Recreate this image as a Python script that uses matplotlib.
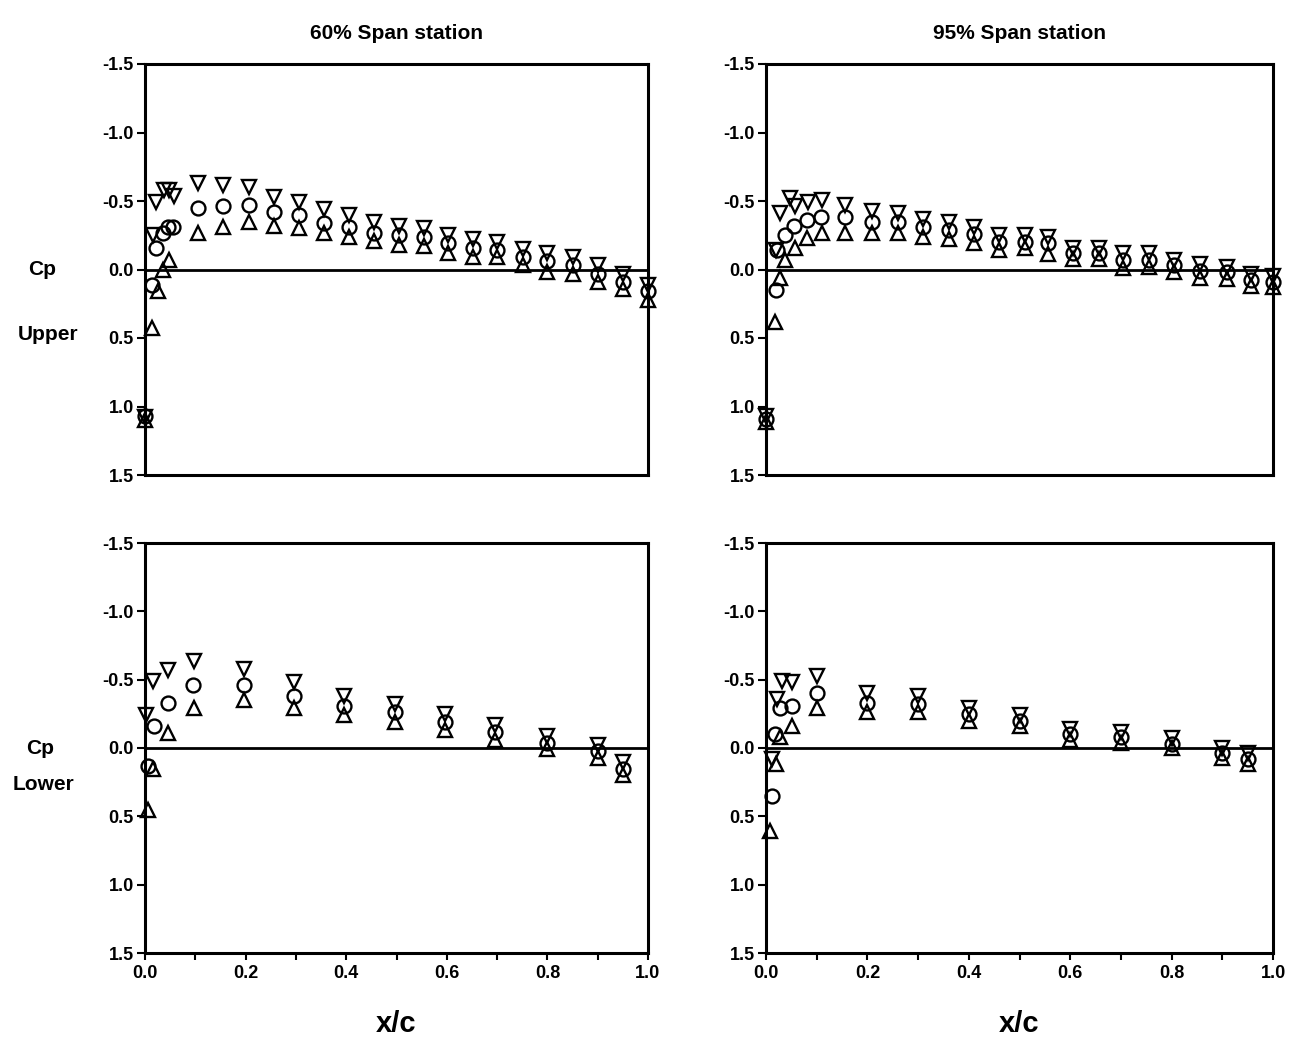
import matplotlib
matplotlib.use("Agg")
import matplotlib.pyplot as plt
from matplotlib.ticker import MultipleLocator, FuncFormatter

plt.rcParams['font.family'] = ['Liberation Sans', 'DejaVu Sans']
plt.rcParams['font.weight'] = 'bold'

# ---- 60% span, upper surface (down-triangle / circle / up-triangle) ----
x60u_dn = [0.0, 0.016, 0.022, 0.038, 0.047, 0.058, 0.105, 0.155, 0.206, 0.256, 0.306, 0.356, 0.405, 0.455,
           0.504, 0.554, 0.603, 0.653, 0.70, 0.752, 0.80, 0.85, 0.90, 0.95, 1.0]
cp60u_dn = [1.08, -0.25, -0.49, -0.58, -0.58, -0.54, -0.63, -0.62, -0.60, -0.53, -0.49, -0.44, -0.40, -0.35,
            -0.32, -0.30, -0.25, -0.22, -0.20, -0.15, -0.12, -0.09, -0.03, 0.03, 0.11]
x60u_ci = [0.0, 0.014, 0.022, 0.036, 0.045, 0.055, 0.105, 0.155, 0.206, 0.256, 0.306, 0.356, 0.405, 0.455,
           0.504, 0.554, 0.603, 0.653, 0.70, 0.752, 0.80, 0.85, 0.90, 0.95, 1.0]
cp60u_ci = [1.07, 0.11, -0.16, -0.27, -0.31, -0.31, -0.45, -0.46, -0.47, -0.42, -0.40, -0.34, -0.31, -0.27,
            -0.25, -0.24, -0.19, -0.16, -0.14, -0.09, -0.06, -0.03, 0.03, 0.09, 0.16]
x60u_up = [0.0, 0.014, 0.025, 0.036, 0.048, 0.105, 0.155, 0.206, 0.256, 0.306, 0.356, 0.405, 0.455,
           0.504, 0.554, 0.603, 0.653, 0.70, 0.752, 0.80, 0.85, 0.90, 0.95, 1.0]
cp60u_up = [1.10, 0.43, 0.16, 0.0, -0.07, -0.27, -0.31, -0.35, -0.32, -0.30, -0.27, -0.24, -0.21,
            -0.18, -0.17, -0.12, -0.09, -0.09, -0.03, 0.02, 0.03, 0.09, 0.14, 0.22]

# ---- 95% span, upper surface ----
x95u_dn = [0.0, 0.020, 0.028, 0.047, 0.057, 0.083, 0.11, 0.156, 0.21, 0.26, 0.31, 0.36, 0.41, 0.46,
           0.51, 0.557, 0.605, 0.656, 0.705, 0.755, 0.804, 0.857, 0.91, 0.957, 1.0]
cp95u_dn = [1.07, -0.14, -0.41, -0.52, -0.46, -0.49, -0.51, -0.47, -0.43, -0.41, -0.37, -0.35, -0.31, -0.25,
            -0.25, -0.24, -0.16, -0.16, -0.12, -0.12, -0.07, -0.04, -0.02, 0.03, 0.05]
x95u_ci = [0.0, 0.020, 0.022, 0.038, 0.055, 0.08, 0.108, 0.156, 0.21, 0.26, 0.31, 0.36, 0.41, 0.46,
           0.51, 0.557, 0.605, 0.656, 0.705, 0.755, 0.804, 0.857, 0.91, 0.957, 1.0]
cp95u_ci = [1.09, 0.15, -0.14, -0.25, -0.32, -0.36, -0.38, -0.38, -0.35, -0.35, -0.31, -0.29, -0.26, -0.20,
            -0.20, -0.19, -0.12, -0.12, -0.07, -0.07, -0.03, 0.01, 0.02, 0.08, 0.09]
x95u_up = [0.0, 0.018, 0.028, 0.038, 0.057, 0.08, 0.11, 0.156, 0.21, 0.26, 0.31, 0.36, 0.41, 0.46,
           0.51, 0.557, 0.605, 0.656, 0.705, 0.755, 0.804, 0.857, 0.91, 0.957, 1.0]
cp95u_up = [1.11, 0.38, 0.06, -0.07, -0.16, -0.23, -0.27, -0.27, -0.27, -0.27, -0.24, -0.22, -0.19, -0.14,
            -0.16, -0.11, -0.08, -0.08, -0.01, -0.02, 0.02, 0.06, 0.07, 0.12, 0.13]

# ---- 60% span, lower surface ----
x60l_dn = [0.002, 0.016, 0.046, 0.097, 0.197, 0.296, 0.395, 0.498, 0.597, 0.695, 0.80, 0.90, 0.95]
cp60l_dn = [-0.24, -0.49, -0.57, -0.64, -0.58, -0.48, -0.38, -0.32, -0.25, -0.17, -0.09, -0.02, 0.10]
x60l_ci = [0.006, 0.018, 0.046, 0.095, 0.197, 0.296, 0.395, 0.498, 0.597, 0.695, 0.80, 0.90, 0.95]
cp60l_ci = [0.13, -0.16, -0.33, -0.46, -0.46, -0.38, -0.31, -0.26, -0.19, -0.12, -0.04, 0.02, 0.15]
x60l_up = [0.006, 0.016, 0.046, 0.097, 0.197, 0.296, 0.395, 0.498, 0.597, 0.695, 0.80, 0.90, 0.95]
cp60l_up = [0.45, 0.15, -0.11, -0.29, -0.35, -0.29, -0.24, -0.19, -0.13, -0.06, 0.01, 0.07, 0.20]

# ---- 95% span, lower surface ----
x95l_dn = [0.012, 0.022, 0.032, 0.051, 0.10, 0.20, 0.30, 0.40, 0.50, 0.60, 0.70, 0.80, 0.90, 0.95]
cp95l_dn = [0.08, -0.36, -0.49, -0.48, -0.53, -0.40, -0.38, -0.29, -0.24, -0.14, -0.12, -0.07, 0.0, 0.04]
x95l_ci = [0.012, 0.018, 0.028, 0.051, 0.10, 0.20, 0.30, 0.40, 0.50, 0.60, 0.70, 0.80, 0.90, 0.95]
cp95l_ci = [0.35, -0.10, -0.29, -0.31, -0.40, -0.33, -0.32, -0.25, -0.20, -0.10, -0.08, -0.03, 0.04, 0.08]
x95l_up = [0.008, 0.020, 0.028, 0.051, 0.10, 0.20, 0.30, 0.40, 0.50, 0.60, 0.70, 0.80, 0.90, 0.95]
cp95l_up = [0.61, 0.12, -0.08, -0.16, -0.29, -0.26, -0.26, -0.20, -0.16, -0.06, -0.04, 0.0, 0.07, 0.12]

titles = ["60% Span station", "95% Span station"]
yticks = [-1.5, -1.0, -0.5, 0.0, 0.5, 1.0, 1.5]

fig = plt.figure(figsize=(12.94, 10.47), dpi=100)
W, H = 1294, 1047


def make_ax(l, r, t, b):
    return fig.add_axes([l / W, 1 - b / H, (r - l) / W, (b - t) / H])


axes = {
    "tl": make_ax(145, 648, 64, 475),
    "tr": make_ax(766, 1273, 64, 475),
    "bl": make_ax(145, 648, 543, 953),
    "br": make_ax(766, 1273, 543, 953),
}

panel_data = {
    "tl": [(x60u_dn, cp60u_dn), (x60u_ci, cp60u_ci), (x60u_up, cp60u_up)],
    "tr": [(x95u_dn, cp95u_dn), (x95u_ci, cp95u_ci), (x95u_up, cp95u_up)],
    "bl": [(x60l_dn, cp60l_dn), (x60l_ci, cp60l_ci), (x60l_up, cp60l_up)],
    "br": [(x95l_dn, cp95l_dn), (x95l_ci, cp95l_ci), (x95l_up, cp95l_up)],
}
markers = ["v", "o", "^"]

fmt = FuncFormatter(lambda v, p: "%.1f" % v)

for key, ax in axes.items():
    for (xs, ys), m in zip(panel_data[key], markers):
        ax.plot(xs, ys, linestyle="none", marker=m, ms=10, mfc="none", mec="black", mew=1.7, clip_on=False)
    ax.axhline(0.0, color="black", lw=2, zorder=1)
    ax.set_xlim(0, 1.0)
    ax.set_ylim(1.5, -1.5)
    ax.set_yticks(yticks)
    ax.yaxis.set_major_formatter(fmt)
    for s in ax.spines.values():
        s.set_linewidth(2.2)
    ax.tick_params(axis="y", direction="out", length=6, width=1.5, labelsize=13, pad=2)
    for lab in ax.get_yticklabels():
        lab.set_fontweight("bold")
    if key in ("bl", "br"):
        ax.xaxis.set_major_locator(MultipleLocator(0.2))
        ax.xaxis.set_minor_locator(MultipleLocator(0.1))
        ax.tick_params(axis="x", which="both", direction="out", length=5, width=1.5, labelsize=13)
        ax.xaxis.set_major_formatter(fmt)
        for lab in ax.get_xticklabels():
            lab.set_fontweight("bold")
        ax.set_xlabel("x/c", fontsize=21, fontweight="bold", labelpad=20)
    else:
        ax.set_xticks([])

axes["tl"].set_title(titles[0], fontsize=15, fontweight="bold", pad=18)
axes["tr"].set_title(titles[1], fontsize=15, fontweight="bold", pad=18)

fig.text(42 / W, 1 - 270 / H, "Cp", fontsize=15, fontweight="bold", ha="center", va="center")
fig.text(48 / W, 1 - 335 / H, "Upper", fontsize=15, fontweight="bold", ha="center", va="center")
fig.text(40 / W, 1 - 748 / H, "Cp", fontsize=15, fontweight="bold", ha="center", va="center")
fig.text(44 / W, 1 - 784 / H, "Lower", fontsize=15, fontweight="bold", ha="center", va="center")

fig.savefig("out.png", dpi=100)
